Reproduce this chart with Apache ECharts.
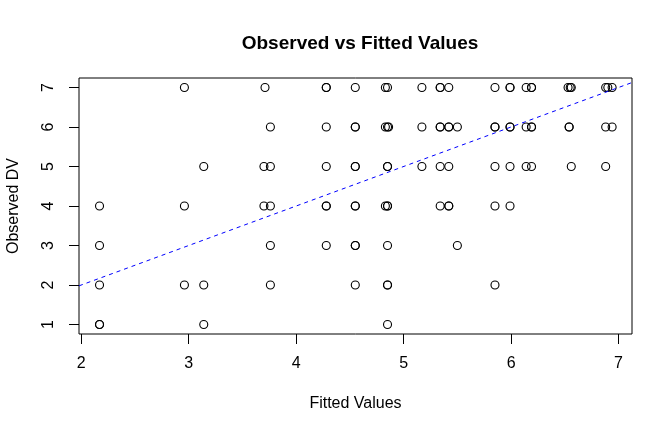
<!DOCTYPE html>
<html>
<head>
<meta charset="utf-8">
<script src="https://cdn.jsdelivr.net/npm/echarts@6/dist/echarts.min.js"></script>
<style>html,body{margin:0;padding:0;background:#fff;}#c{width:672px;height:432px;}</style>
</head>
<body>
<div id="c"></div>
<script>
// Fitted values for each observed DV level (1..7)
const obs7 = [2.96, 3.71, 4.28, 4.28, 4.55, 4.83, 4.85, 5.17, 5.34, 5.34, 5.42, 5.85, 5.99, 5.99, 6.14, 6.19, 6.19, 6.53, 6.55, 6.56, 6.88, 6.90, 6.94];
const obs6 = [3.76, 4.28, 4.55, 4.55, 4.83, 4.85, 4.86, 5.17, 5.34, 5.34, 5.42, 5.42, 5.50, 5.85, 5.85, 5.99, 5.99, 6.14, 6.19, 6.19, 6.54, 6.54, 6.88, 6.94];
const obs5 = [3.14, 3.70, 3.76, 4.28, 4.55, 4.55, 4.85, 4.85, 5.17, 5.34, 5.42, 5.85, 5.99, 6.14, 6.19, 6.56, 6.88];
const obs4 = [2.17, 2.96, 3.70, 3.76, 4.28, 4.28, 4.55, 4.55, 4.83, 4.85, 4.85, 5.34, 5.42, 5.42, 5.85, 5.99];
const obs3 = [2.17, 3.76, 4.28, 4.55, 4.55, 4.85, 5.50];
const obs2 = [2.17, 2.96, 3.14, 3.76, 4.55, 4.85, 4.85, 5.85];
const obs1 = [2.17, 2.17, 3.14, 4.85];
const xTicks = [2, 3, 4, 5, 6, 7];
const yTicks = [1, 2, 3, 4, 5, 6, 7];
const xRange = [1.979, 7.125];
const yRange = [0.76, 7.24];

const rows = [[1, obs1], [2, obs2], [3, obs3], [4, obs4], [5, obs5], [6, obs6], [7, obs7]];
const points = [];
rows.forEach(([y, xs]) => xs.forEach(x => points.push([x, y])));

const font = '"Liberation Sans", Arial, Helvetica, sans-serif';
const chart = echarts.init(document.getElementById('c'), null, {renderer: 'canvas'});
chart.setOption({
  animation: false,
  backgroundColor: '#fff',
  title: {
    text: 'Observed vs Fitted Values',
    left: 355, top: 29, textAlign: 'center',
    textStyle: {fontFamily: font, fontSize: 19, fontWeight: 'bold', color: '#000'}
  },
  grid: {left: 79, right: 40, top: 78, bottom: 98, outerBoundsMode: 'none', containLabel: false, show: true, borderColor: '#000', borderWidth: 1, backgroundColor: 'transparent'},
  xAxis: {
    type: 'value', min: xRange[0], max: xRange[1],
    name: 'Fitted Values', nameLocation: 'middle', nameGap: 62,
    nameTextStyle: {fontFamily: font, fontSize: 16, color: '#000', verticalAlign: 'top'},
    axisLine: {show: false},
    splitLine: {show: false},
    axisTick: {show: true, length: 10, customValues: xTicks, lineStyle: {color: '#000'}},
    axisLabel: {customValues: xTicks, margin: 22, fontFamily: font, fontSize: 16, color: '#000'}
  },
  yAxis: {
    type: 'value', min: yRange[0], max: yRange[1],
    name: 'Observed DV', nameLocation: 'middle', nameGap: 57, nameRotate: 90,
    nameTextStyle: {fontFamily: font, fontSize: 16, color: '#000'},
    axisLine: {show: false},
    splitLine: {show: false},
    axisTick: {show: true, length: 10, customValues: yTicks, lineStyle: {color: '#000'}},
    axisLabel: {customValues: yTicks, rotate: 90, margin: 22, fontFamily: font, fontSize: 16, color: '#000'}
  },
  series: [
    {
      type: 'scatter', data: points, symbol: 'circle', symbolSize: 8,
      itemStyle: {color: 'rgba(0,0,0,0)', borderColor: '#000', borderWidth: 1.1, opacity: 1},
      emphasis: {disabled: true}
    },
    {
      type: 'line', data: [[xRange[0], xRange[0]], [xRange[1], xRange[1]]],
      symbol: 'none', clip: true,
      lineStyle: {color: '#0000ff', width: 1, type: [4, 4]},
      emphasis: {disabled: true}
    }
  ]
});
</script>
</body>
</html>
